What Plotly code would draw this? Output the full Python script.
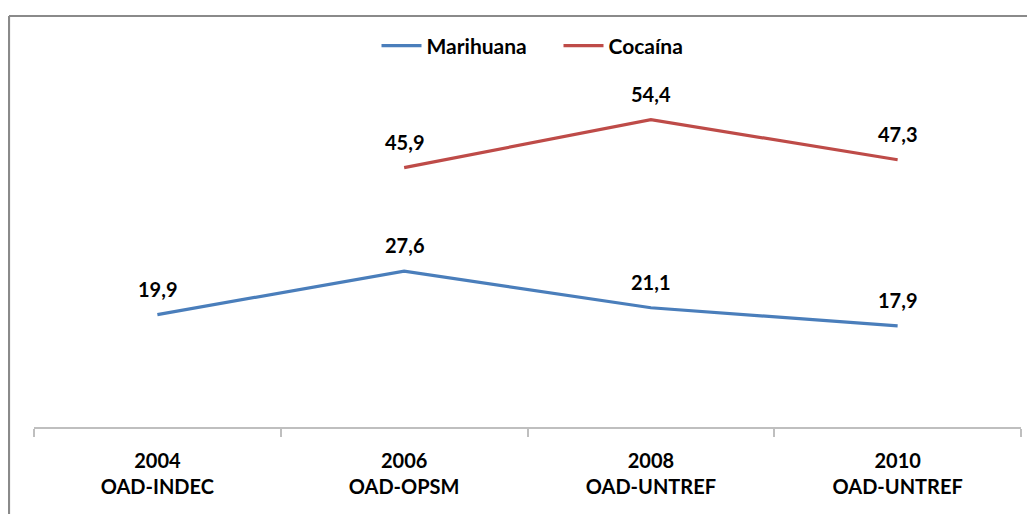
import plotly.graph_objects as go

categories = ["2004<br>OAD-INDEC", "2006<br>OAD-OPSM", "2008<br>OAD-UNTREF", "2010<br>OAD-UNTREF"]
marihuana = [19.9, 27.6, 21.1, 17.9]
cocaina = [None, 45.9, 54.4, 47.3]

W, H = 1035, 514
L, R, T, B = 26, 22, 80, 95
FONT = "Lato"

fig = go.Figure()
fig.add_trace(go.Scatter(x=categories, y=marihuana, mode="lines", name="Marihuana",
                         line=dict(color="#4a7ebb", width=3.2)))
fig.add_trace(go.Scatter(x=categories, y=cocaina, mode="lines", name="Cocaína",
                         line=dict(color="#be4b48", width=3.2)))

ann = []
for series in (marihuana, cocaina):
    for c, v in zip(categories, series):
        if v is None:
            continue
        ann.append(dict(x=c, y=v, xref="x", yref="y", text=f"{v:.1f}".replace(".", ","),
                        showarrow=False, yshift=26, yanchor="middle",
                        font=dict(family=FONT, size=20, color="#000000", weight="bold")))

pw = W - L - R
ph = H - T - B
x0 = (1 - L) / pw
y0 = (H - B - 8) / ph
ybot = (H - B - 600) / ph
xright = (1100 - L) / pw
shapes = [
    dict(type="line", xref="paper", yref="paper", x0=x0, x1=x0, y0=y0, y1=ybot,
         line=dict(color="#8a8a8a", width=2.2)),
    dict(type="line", xref="paper", yref="paper", x0=x0, x1=xright, y0=y0, y1=y0,
         line=dict(color="#8a8a8a", width=2.2)),
]

fig.update_layout(
    width=W, height=H,
    margin=dict(l=L, r=R, t=T, b=B),
    paper_bgcolor="white", plot_bgcolor="white",
    font=dict(family=FONT, size=20, color="#000000"),
    showlegend=True,
    legend=dict(orientation="h", x=0.5 + 31 / pw, xanchor="center", y=(H - B - 38) / ph, yanchor="middle",
                font=dict(family=FONT, size=21, color="#000000", weight="bold"),
                itemwidth=40, entrywidth=127, entrywidthmode="pixels",
                bgcolor="rgba(0,0,0,0)"),
    xaxis=dict(type="category", range=[-0.5, 3.5], showgrid=False, zeroline=False,
               showline=True, linecolor="#bfbfbf", linewidth=1.5,
               ticks="outside", tickson="boundaries", ticklen=8, tickcolor="#bfbfbf", tickwidth=1.5,
               ticklabelstandoff=15,
               tickfont=dict(family=FONT, size=20, color="#000000", weight="bold")),
    yaxis=dict(range=[0, 60], visible=False, showgrid=False, zeroline=False),
    annotations=ann,
    shapes=shapes,
)

fig.write_html("out.html")
